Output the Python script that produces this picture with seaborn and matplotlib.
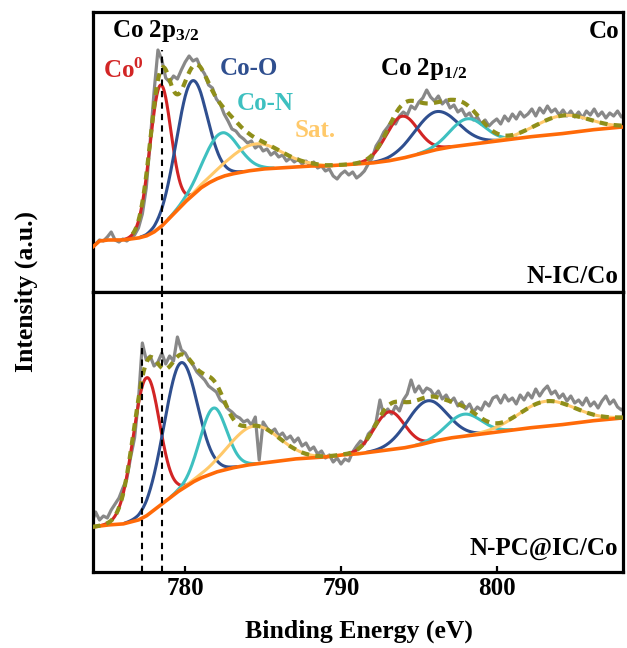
import numpy as np
import pandas as pd
import matplotlib
matplotlib.use("Agg")
import matplotlib.pyplot as plt
import seaborn as sns

# ---------------- data ----------------
raw_energy_start = 774.0
raw_energy_step = 0.25

raw_top = [44, 48, 52, 51, 55, 60, 52, 50, 53, 51, 54, 57, 64, 78, 104, 150, 200, 242,
           232, 214, 210, 216, 213, 222, 230, 236, 231, 233, 224, 218, 207, 204, 193, 188,
           178, 171, 163, 161, 156, 153, 149, 151, 144, 147, 141, 143, 137, 140, 135, 137,
           131, 134, 130, 133, 128, 131, 127, 130, 124, 126, 121, 123, 116, 113, 118, 121,
           117, 120, 114, 117, 121, 128, 134, 146, 152, 160, 165, 171, 168, 176, 180, 177,
           186, 183, 190, 194, 202, 195, 191, 196, 188, 192, 184, 187, 180, 183, 176, 179,
           172, 175, 168, 172, 166, 170, 173, 168, 176, 171, 178, 173, 180, 175, 178, 183,
           176, 184, 179, 186, 180, 183, 177, 182, 176, 181, 175, 180, 174, 181, 177, 183,
           176, 180, 174, 179, 176, 181, 175, 178]

raw_bottom = [49, 60, 52, 56, 54, 62, 68, 74, 84, 93, 115, 134, 172, 229, 212, 216, 206,
              210, 219, 208, 216, 211, 235, 222, 219, 212, 207, 200, 196, 192, 186, 183, 180,
              172, 169, 163, 160, 156, 154, 150, 152, 147, 155, 112, 150, 144, 140, 143, 136,
              139, 133, 136, 130, 134, 126, 129, 122, 125, 118, 121, 114, 117, 110, 114, 108,
              113, 111, 120, 126, 131, 128, 138, 142, 150, 172, 156, 163, 158, 166, 161, 172,
              178, 192, 180, 186, 179, 184, 182, 176, 181, 173, 177, 170, 174, 166, 170, 163,
              168, 160, 165, 162, 170, 166, 174, 176, 169, 177, 171, 174, 168, 177, 172, 179,
              174, 183, 176, 182, 186, 178, 181, 174, 178, 171, 176, 169, 172, 167, 174, 166,
              170, 164, 171, 176, 168, 172, 165, 162, 166]

bg_energy = [774.0, 774.5, 775, 776, 777, 777.5, 778, 778.5, 779, 779.5, 780, 780.5, 781,
             781.5, 782, 782.5, 783, 784, 785, 786, 787, 788, 789, 790, 791, 792, 793, 794,
             795, 796, 797, 798, 799, 800, 802, 804, 806, 808, 808.25]
bg_top = [44, 51, 52, 52, 54, 56, 60, 66, 74, 82, 90, 97, 104, 109, 113, 116, 118, 121,
          123, 124, 125, 126, 126, 127, 128, 129, 131, 134, 138, 142, 145, 147, 149, 151,
          155, 158, 162, 165, 165]
bg_bottom = [45, 46, 47, 48, 52, 56, 62, 68, 74, 80, 85, 90, 94, 97, 100, 102, 104, 107,
             109, 111, 113, 114, 115, 117, 118, 120, 122, 124, 127, 131, 134, 136, 138, 140,
             144, 147, 151, 154, 154]

components = ["Co0", "Co-O", "Co-N", "Sat."]
# fitted peaks: centre (eV), height (a.u.), FWHM (eV)
top_center = [778.4, 780.4, 782.3, 784.5, 793.9, 796.1, 798.1, 804.2]
top_height = [142, 115, 44, 26, 42, 38, 26, 18]
top_fwhm = [1.6, 2.3, 2.6, 4.0, 2.4, 3.3, 2.6, 4.0]
bottom_center = [777.5, 779.7, 781.8, 784.4, 793.1, 795.5, 797.9, 803.2]
bottom_height = [138, 127, 65, 38, 38, 42, 22, 25]
bottom_fwhm = [2.0, 2.5, 2.0, 3.8, 2.3, 3.0, 2.6, 4.2]

ref_lines = [778.5, 777.2]
sample_names = ["N-IC/Co", "N-PC@IC/Co"]
xticks = [780, 790, 800]

# ---------------- style ----------------
sns.set_style("white")
plt.rcParams["font.family"] = ["Liberation Serif", "DejaVu Serif"]
plt.rcParams["font.weight"] = "bold"
plt.rcParams["text.color"] = "black"
plt.rcParams["axes.labelcolor"] = "black"
plt.rcParams["xtick.color"] = "black"
plt.rcParams["ytick.color"] = "black"
plt.rcParams["mathtext.fontset"] = "custom"
plt.rcParams["mathtext.rm"] = "Liberation Serif:bold"
plt.rcParams["mathtext.bf"] = "Liberation Serif:bold"
plt.rcParams["mathtext.it"] = "Liberation Serif:bold"

c_red = "#D22525"
c_blue = "#2F4F8F"
c_teal = "#3EC0C0"
c_sat = "#FFC96A"
c_bg = "#FF6A08"
c_env = "#8F8F1A"
c_raw = "#888888"
comp_colors = [c_red, c_blue, c_teal, c_sat]

fig = plt.figure(figsize=(6.27, 6.48), dpi=100)
L, W = 92.5 / 627, 530.5 / 627
ax1 = fig.add_axes([L, 1 - 292 / 648, W, 280 / 648])
ax2 = fig.add_axes([L, 1 - 572 / 648, W, 280 / 648])

raw_x = raw_energy_start + raw_energy_step * np.arange(len(raw_top))
fine_x = np.linspace(774.0, 808.25, 1400)


def line(ax, x, y, color, lw, ls="-", z=2):
    sns.lineplot(x=np.asarray(x), y=np.asarray(y), ax=ax, color=color, linewidth=lw,
                 linestyle=ls, zorder=z, estimator=None, sort=False, legend=False)


def draw_panel(ax, raw, bg, centers, heights, fwhms, env_start):
    bg_f = np.interp(fine_x, bg_energy, bg)
    line(ax, raw_x, raw, c_raw, 2.3, z=1)
    total = bg_f.copy()
    for i, (c, h, w) in enumerate(zip(centers, heights, fwhms)):
        g = h * np.exp(-4 * np.log(2) * (fine_x - c) ** 2 / w ** 2)
        total += g
        m = g > 0.4
        line(ax, fine_x[m], (bg_f + g)[m], comp_colors[i % 4], 2.2, z=2)
    line(ax, fine_x, bg_f, c_bg, 2.6, z=3)
    m = fine_x >= env_start
    line(ax, fine_x[m], total[m], c_env, 3.0, ls=(0, (1.9, 1.5)), z=4)


draw_panel(ax1, raw_top, bg_top, top_center, top_height, top_fwhm, 776.6)
draw_panel(ax2, raw_bottom, bg_bottom, bottom_center, bottom_height, bottom_fwhm, 774.0)

# reference dashed lines
dash = (0, (3, 2.5))
ax1.axvline(ref_lines[0], ymin=0, ymax=242 / 280, color="black", lw=1.5, ls=dash, zorder=5)
ax2.axvline(ref_lines[0], ymin=0, ymax=1, color="black", lw=1.5, ls=dash, zorder=5)
ax2.axvline(ref_lines[1], ymin=0, ymax=229 / 280, color="black", lw=1.5, ls=dash, zorder=5)

for ax in (ax1, ax2):
    ax.set_xlim(774.05, 808.1)
    ax.set_ylim(0, 280)
    ax.set_xlabel("")
    ax.set_ylabel("")
    ax.set_yticks([])
    for s in ax.spines.values():
        s.set_linewidth(2.3)
        s.set_color("black")
        s.set_visible(True)

ax1.set_xticks([])
ax2.set_xticks(xticks)
ax2.set_xticklabels([str(t) for t in xticks], fontsize=18, fontweight="bold")
ax2.tick_params(axis="x", direction="in", length=4, width=1.6, pad=3.5, bottom=True,
                colors="black")

fs = 18
T = ax1.transAxes
ax1.text(0.0368, 0.911, r"Co 2p$_{3/2}$", transform=T, fontsize=fs, ha="left", va="baseline")
ax1.text(0.994, 0.907, "Co", transform=T, fontsize=fs, ha="right", va="baseline")
ax1.text(0.0198, 0.764, r"Co$^{0}$", transform=T, fontsize=fs, ha="left", va="baseline", color=c_red)
ax1.text(0.240, 0.775, "Co-O", transform=T, fontsize=fs, ha="left", va="baseline", color=c_blue)
ax1.text(0.272, 0.650, "Co-N", transform=T, fontsize=fs, ha="left", va="baseline", color=c_teal)
ax1.text(0.3815, 0.554, "Sat.", transform=T, fontsize=fs, ha="left", va="baseline", color=c_sat)
ax1.text(0.542, 0.775, r"Co 2p$_{1/2}$", transform=T, fontsize=fs, ha="left", va="baseline")
ax1.text(0.9906, 0.032, sample_names[0], transform=T, fontsize=fs, ha="right", va="baseline")
ax2.text(0.9906, 0.061, sample_names[1], transform=ax2.transAxes, fontsize=fs, ha="right", va="baseline")

fig.text(0.042, 1 - 292 / 648, "Intensity (a.u.)", rotation=90, ha="center", va="center",
         fontsize=18.5, fontweight="bold")
fig.text(0.572, 1 - 631 / 648, "Binding Energy (eV)", ha="center", va="center",
         fontsize=18.5, fontweight="bold")

fig.savefig("out.png", dpi=100)
